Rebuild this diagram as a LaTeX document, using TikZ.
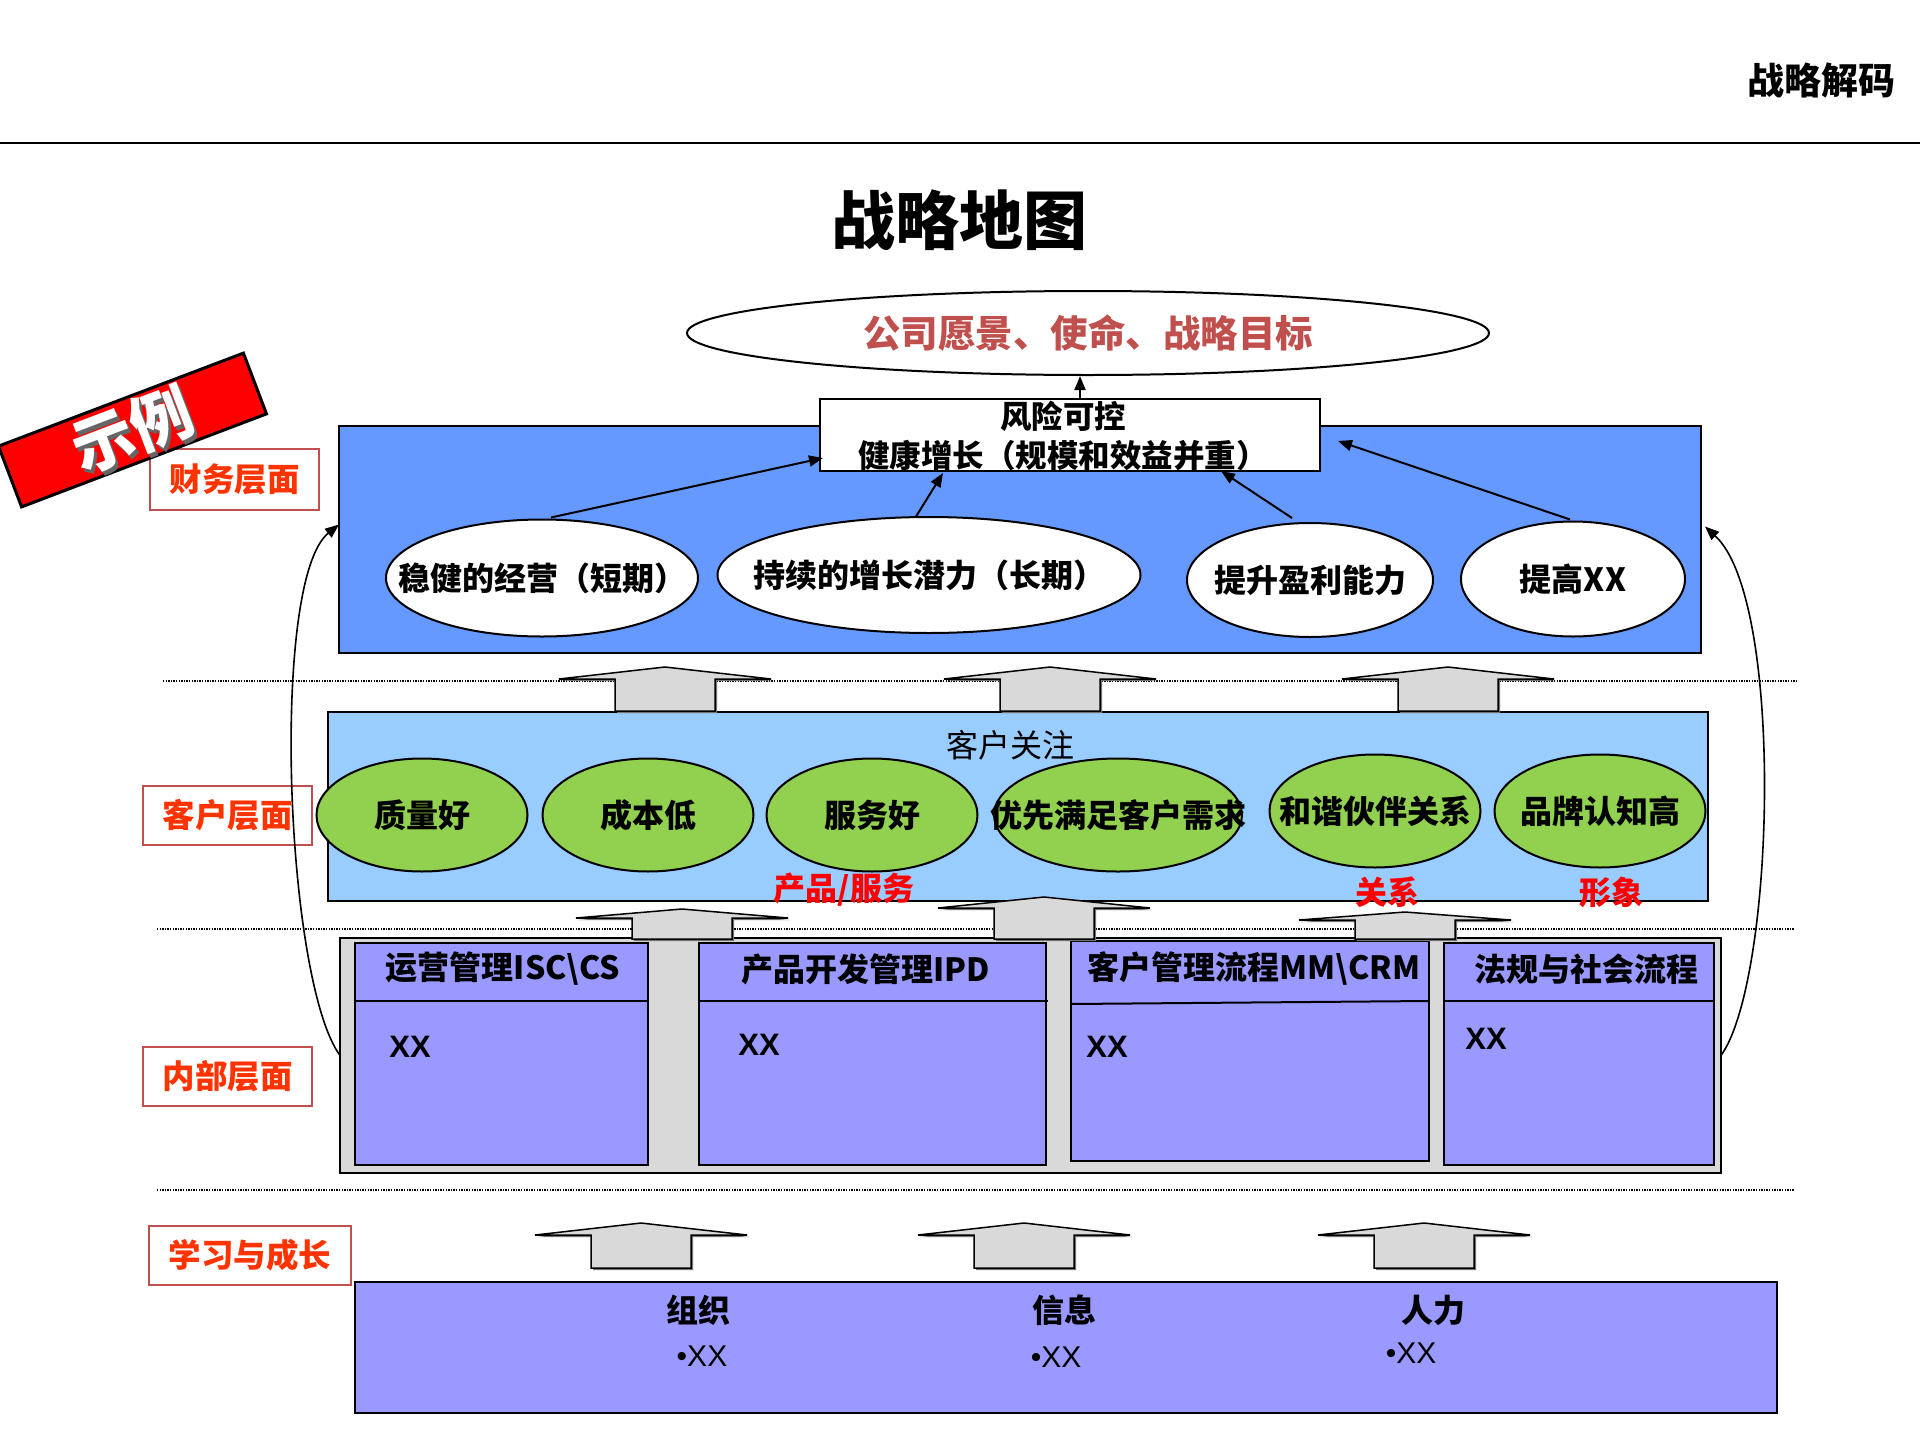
\documentclass[tikz,border=0pt]{standalone}
\usepackage{fontspec}
\setmainfont{Noto Sans CJK SC}
\newfontfamily\arialf{Liberation Sans}
\usetikzlibrary{shapes.geometric,arrows.meta,calc,shadows}
\definecolor{finblue}{RGB}{102,153,255}
\definecolor{custblue}{RGB}{153,204,255}
\definecolor{leafgreen}{RGB}{146,208,80}
\definecolor{lavender}{RGB}{153,153,255}
\definecolor{lightgray}{RGB}{217,217,217}
\definecolor{lbltext}{RGB}{255,51,0}
\definecolor{lblborder}{RGB}{192,80,77}
\definecolor{visred}{RGB}{192,80,77}
\newcommand\fsz[1]{\fontsize{#1}{#1}\selectfont}
\newcommand\zw[1]{\makebox[0pt][c]{#1}}
\newcommand\myblockup[4]{%
  \path[blockarrow] (#1-106,#3) -- (#1,#2) -- (#1+106,#3) -- (#1+50,#3) -- (#1+50,#4) -- (#1-50,#4) -- (#1-50,#3) -- cycle;}
\tikzset{
  box/.style={draw=black, line width=2pt, inner sep=0pt, outer sep=0pt},
  wellip/.style={ellipse, draw=black, line width=2pt, fill=white, inner sep=0pt, outer sep=0pt, font=\bfseries\fsz{32}},
  gellip/.style={ellipse, draw=black, line width=2pt, fill=leafgreen, inner sep=0pt, outer sep=0pt, font=\bfseries\fsz{32}},
  layerlbl/.style={draw=lblborder, line width=2pt, text=lbltext, font=\bfseries\fsz{32.5}, inner sep=0pt},
  conn/.style={draw=black, line width=2pt, -{Triangle[length=14pt,width=11pt]}},
  curveconn/.style={draw=black, line width=1.6pt, -{Triangle[length=14pt,width=11pt]}},
  sepline/.style={draw=black, line width=1.3pt, dash pattern=on 1.3pt off 1.3pt},
  blockarrow/.style={draw=black, line width=1.5pt, fill=lightgray, line join=miter,
     drop shadow={shadow xshift=2pt, shadow yshift=-2pt, fill=black!55, opacity=1}},
  hdr/.style={font=\bfseries\fsz{32}, inner sep=0pt},
  xx/.style={font=\arialf\bfseries\fsz{31}, inner sep=0pt},
  redlbl/.style={text=red, font=\bfseries\fsz{32}, inner sep=0pt},
}
\begin{document}
\begin{tikzpicture}[x=1pt,y=-1pt]
\useasboundingbox[fill=white] (0,0) rectangle (1920,1440);

% header
\node[font=\bfseries\fsz{37}, inner sep=0pt] (hdrtitle) at (1821,80) {战略解码};
\draw[line width=2.5pt] (0,143) -- (1920,143);
\node[font=\bfseries\fsz{64}, inner sep=0pt] (title) at (959,220) {战略地图};

% separators
\draw[sepline] (163,681) -- (1798,681);
\draw[sepline] (157,929) -- (1794,929);
\draw[sepline] (157,1190) -- (1794,1190);

% vision ellipse
\node[ellipse, draw=black, line width=2pt, minimum width=802pt, minimum height=84pt, inner sep=0pt,
      text=visred, font=\bfseries\fsz{37.5}] (vis) at (1088,333) {\zw{公司愿景、使命、战略目标}};

% finance layer
\node[box, fill=finblue, minimum width=1362pt, minimum height=227pt] (fin) at (1020,539.5) {};
\node[box, fill=white, minimum width=500pt, minimum height=72pt] (rk) at (1070,435) {};
\node[font=\bfseries\fontsize{31.5}{39}\selectfont, align=center, inner sep=0pt] (rkt) at (1063,436) {风险可控\\健康增长（规模和效益并重）};
\node[wellip, minimum width=312pt, minimum height=117pt] (e1) at (542,578) {\zw{稳健的经营（短期）}};
\node[wellip, minimum width=423pt, minimum height=116pt] (e2) at (929,575) {\zw{持续的增长潜力（长期）}};
\node[wellip, minimum width=246pt, minimum height=114pt] (e3) at (1310,580) {\zw{提升盈利能力}};
\node[wellip, minimum width=224pt, minimum height=115pt] (e4) at (1573,579) {\zw{提高XX}};

\coordinate (rkn) at ($(rk.north)+(10,0)$);
\draw[conn] (rkn) -- (rkn |- vis.south);
\draw[conn] ($(e1.north)+(9,-2)$) -- ($(rk.south west)+(3,-13)$);
\draw[conn] (e2.103) -- ($(rk.south west)+(123,2)$);
\draw[conn] ($(e3.north)+(-18,-5)$) -- ($(rk.south east)+(-99,0)$);
\draw[conn] ($(e4.north)+(-3,-2)$) -- ($(rk.east)+(18,6)$);

% customer layer
\node[box, fill=custblue, minimum width=1380pt, minimum height=189pt] (cust) at (1018,806.5) {};
\node[font=\fsz{32}, inner sep=0pt] (custt) at (1010,745) {客户关注};
\node[gellip, minimum width=211pt, minimum height=113pt] (g1) at (422,815) {\zw{质量好}};
\node[gellip, minimum width=211pt, minimum height=113pt] (g2) at (648,815) {\zw{成本低}};
\node[gellip, minimum width=211pt, minimum height=113pt] (g3) at (872,815) {\zw{服务好}};
\node[gellip, minimum width=248pt, minimum height=113pt] (g4) at (1118,815) {\zw{优先满足客户需求}};
\node[gellip, minimum width=211pt, minimum height=113pt] (g5) at (1375,811) {\zw{和谐伙伴关系}};
\node[gellip, minimum width=211pt, minimum height=113pt] (g6) at (1600,811) {\zw{品牌认知高}};
\node[redlbl] (r1) at (844,890) {产品/服务};
\node[redlbl] (r2) at (1387,892) {关系};
\node[redlbl] (r3) at (1611,892) {形象};

% internal layer
\node[box, fill=lightgray, minimum width=1381pt, minimum height=235pt] (intbox) at (1030.5,1055.5) {};
\node[box, fill=lavender, minimum width=293pt, minimum height=222pt] (ib1) at (501.5,1054) {};
\node[box, fill=lavender, minimum width=347pt, minimum height=222pt] (ib2) at (872.5,1054) {};
\node[box, fill=lavender, minimum width=358pt, minimum height=220pt] (ib3) at (1250,1051) {};
\node[box, fill=lavender, minimum width=270pt, minimum height=222pt] (ib4) at (1579,1054) {};
\draw[line width=2pt] (355,1001) -- (648,1001);
\draw[line width=2pt] (699,1001) -- (1048,1001);
\draw[line width=2pt] (1071,1004) -- (1429,1001);
\draw[line width=2pt] (1444,1001) -- (1714,1001);
\node[hdr] (h1) at (503,969) {运营管理ISC\textbackslash CS};
\node[hdr] (h2) at (866,969) {产品开发管理IPD};
\node[hdr] (h3) at (1254,969) {客户管理流程MM\textbackslash CRM};
\node[hdr] (h4) at (1586,969) {法规与社会流程};
\node[xx] (x1) at (410,1047) {XX};
\node[xx] (x2) at (759,1045) {XX};
\node[xx] (x3) at (1107,1047) {XX};
\node[xx] (x4) at (1486,1039) {XX};

% learning layer
\node[box, fill=lavender, minimum width=1422pt, minimum height=131pt] (learn) at (1066,1347.5) {};
\node[hdr] (l1) at (698,1310) {组织};
\node[hdr] (l2) at (1064,1310) {信息};
\node[hdr] (l3) at (1433,1310) {人力};
\node[font=\arialf\fsz{30}, inner sep=0pt] (b1) at (702,1356) {•XX};
\node[font=\arialf\fsz{30}, inner sep=0pt] (b2) at (1056,1357) {•XX};
\node[font=\arialf\fsz{30}, inner sep=0pt] (b3) at (1411,1353) {•XX};

% block arrows
\myblockup{665}{667}{679}{711}
\myblockup{1050}{667}{679}{711}
\myblockup{1448}{667}{679}{711}
\myblockup{682}{909}{918}{939}
\myblockup{1044}{897}{908}{939}
\myblockup{1405}{912}{920}{939}
\myblockup{641}{1223}{1235}{1268}
\myblockup{1024}{1223}{1235}{1268}
\myblockup{1424}{1223}{1235}{1268}

% layer labels
\node[layerlbl, minimum width=169pt, minimum height=61pt] (lf) at (234.5,479.5) {财务层面};
\node[layerlbl, minimum width=169pt, minimum height=59pt] (lc) at (227.5,815.5) {客户层面};
\node[layerlbl, minimum width=169pt, minimum height=59pt] (li) at (227.5,1076.5) {内部层面};
\node[layerlbl, minimum width=202pt, minimum height=59pt] (ll) at (250,1255.5) {学习与成长};

% curved feedback arrows
\draw[curveconn] (intbox.west) .. controls (285,980) and (270,580) .. ($(fin.west)+(0,-15)$);
\draw[curveconn] (intbox.east) .. controls (1775,980) and (1785,600) .. ($(fin.east)+(4,-13)$);

% example banner
\node[draw=black, line width=3pt, fill=red, minimum width=262pt, minimum height=65pt, inner sep=0pt,
      rotate=20.8] (banner) at (132.5,430) {};
\node[rotate=20.8, text=black!60, font=\bfseries\fsz{62}, inner sep=0pt] (bannersh) at (135.5,433.5) {示例};
\node[rotate=20.8, text=white, font=\bfseries\fsz{62}, inner sep=0pt] (bannert) at (132.5,430) {示例};
\end{tikzpicture}
\end{document}
